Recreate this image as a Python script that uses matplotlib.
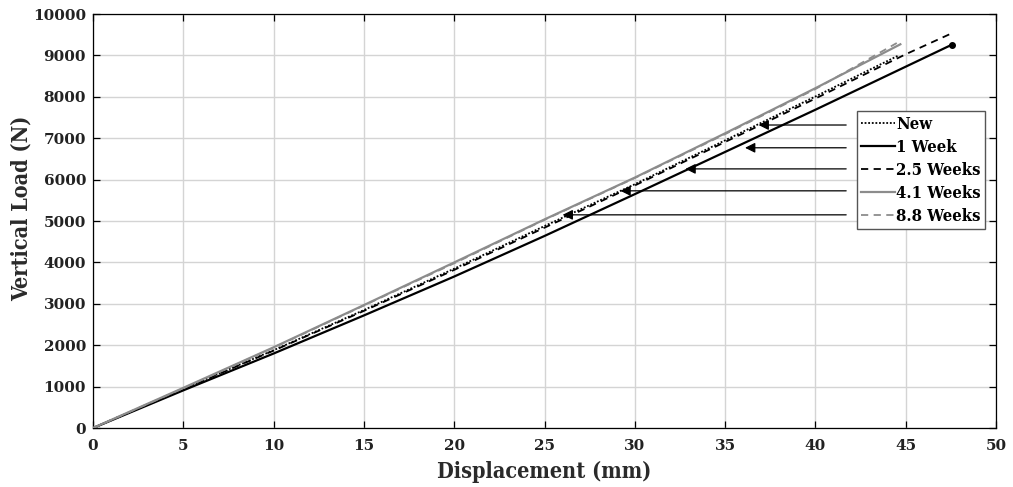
import matplotlib
matplotlib.use("Agg")
import matplotlib.pyplot as plt

# ---- data ----
new_x = [0, 5, 10, 15, 20, 25, 30, 35, 40, 44.6]
new_y = [0, 950, 1880, 2850, 3850, 4880, 5890, 6950, 8010, 9000]

w1_x = [0, 5, 10, 15, 20, 25, 30, 35, 40, 45, 47.55]
w1_y = [0, 910, 1800, 2720, 3660, 4640, 5650, 6670, 7690, 8730, 9260]

w25_x = [0, 5, 10, 15, 20, 25, 30, 35, 40, 45, 47.45]
w25_y = [0, 940, 1870, 2830, 3820, 4840, 5860, 6910, 7960, 9030, 9517]

w41_x = [0, 5, 10, 15, 20, 25, 30, 35, 40, 44.7]
w41_y = [0, 970, 1950, 2970, 4000, 5040, 6050, 7120, 8210, 9270]

w88_x = [0, 5, 10, 15, 20, 25, 30, 35, 40, 44.5]
w88_y = [0, 960, 1940, 2960, 3980, 5030, 6040, 7100, 8190, 9300]

labels = ["New", "1 Week", "2.5 Weeks", "4.1 Weeks", "8.8 Weeks"]

# annotation arrows: tip (x, y) and tail x
arrow_tip_x = [36.85, 36.1, 32.8, 29.2, 26.0]
arrow_y = [7320, 6770, 6260, 5730, 5150]
arrow_tail_x = 41.7

xticks = list(range(0, 51, 5))
yticks = list(range(0, 10001, 1000))

plt.rcParams['font.family'] = ['DejaVu Serif']
plt.rcParams['font.weight'] = 'bold'

fig = plt.figure(figsize=(10.13, 4.87), dpi=100)
ax = fig.add_axes([0.0918, 0.1211, 0.8915, 0.8500])

gray = '#8c8c8c'
ax.plot(new_x, new_y, color='black', lw=1.3, ls=(0, (1, 1)), label=labels[0], zorder=3)
ax.plot(w1_x, w1_y, color='black', lw=1.6, ls='-', label=labels[1], zorder=3)
ax.plot([w1_x[-1]], [w1_y[-1]], 'o', color='black', ms=4, zorder=4)
ax.plot(w25_x, w25_y, color='black', lw=1.3, ls=(0, (4, 3)), label=labels[2], zorder=3)
ax.plot(w41_x, w41_y, color=gray, lw=1.6, ls='-', label=labels[3], zorder=3)
ax.plot(w88_x, w88_y, color=gray, lw=1.3, ls=(0, (4, 3)), label=labels[4], zorder=3)

for tx, ty in zip(arrow_tip_x, arrow_y):
    ax.annotate('', xy=(tx, ty), xytext=(arrow_tail_x, ty),
                arrowprops=dict(arrowstyle='-|>', color='black', lw=0.9,
                                mutation_scale=15, shrinkA=0, shrinkB=0),
                zorder=5)

ax.set_xlim(0, 50)
ax.set_ylim(0, 10000)
ax.set_xticks(xticks)
ax.set_yticks(yticks)
ax.grid(True, color='#d4d4d4', lw=1.0)
ax.set_axisbelow(True)
ax.tick_params(direction='in', length=5, top=True, right=True, width=0.9,
               labelsize=11, pad=5)
ax.tick_params(axis='x', pad=8)
for lab in ax.get_xticklabels() + ax.get_yticklabels():
    lab.set_fontweight('bold')
    lab.set_color('#222222')
for s in ax.spines.values():
    s.set_linewidth(0.9)

ax.set_xlabel('Displacement (mm)', fontsize=15.5, fontweight='bold', fontstretch='condensed',
              color='#2a2a2a')
ax.set_ylabel('Vertical Load (N)', fontsize=15.5, fontweight='bold', fontstretch='condensed',
              color='#2a2a2a')
ax.xaxis.set_label_coords(0.5, -0.080)
ax.yaxis.set_label_coords(-0.067, 0.53)

leg = ax.legend(loc='upper left', bbox_to_anchor=(0.846, 0.765),
                prop=dict(family='DejaVu Serif', weight='bold', size=12, stretch='condensed'),
                frameon=True, fancybox=False, edgecolor='#555555', framealpha=1,
                handlelength=2.0, handletextpad=0.1, borderpad=0.25,
                labelspacing=0.37, borderaxespad=0)
leg.get_frame().set_linewidth(1.0)

fig.savefig('out.png', dpi=100)
